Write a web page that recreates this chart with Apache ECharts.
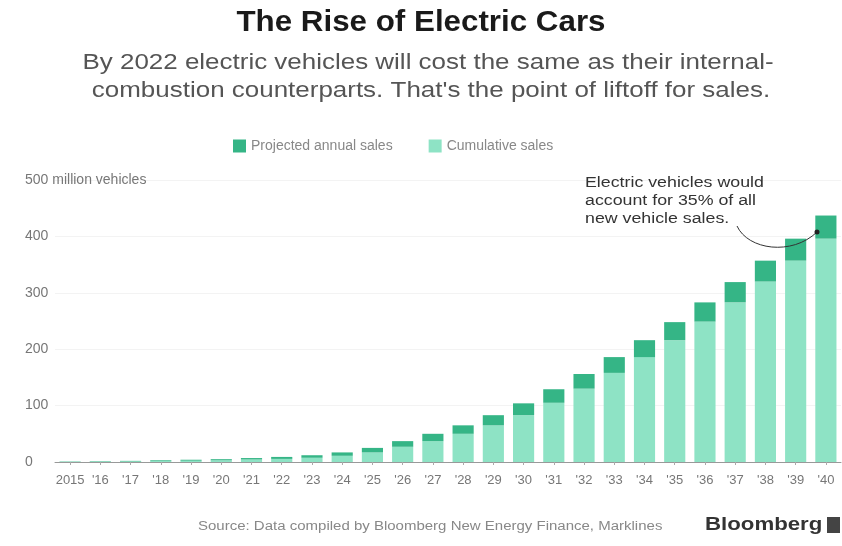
<!DOCTYPE html>
<html><head><meta charset="utf-8">
<script src="https://cdn.jsdelivr.net/npm/echarts@6/dist/echarts.min.js"></script>
<style>html,body{margin:0;padding:0;background:#fff}#c{width:842px;height:546px}</style>
</head><body><div id="c"></div>
<script>
const years = ['2015',"'16","'17","'18","'19","'20","'21","'22","'23","'24","'25","'26","'27","'28","'29","'30","'31","'32","'33","'34","'35","'36","'37","'38","'39","'40"];
const cumulativeSales = [1,1.5,2,3,4,5,7,9,12,17,25,37,50,65,83,104,129,156,186,216,248,283,319,357,396,437];
const annualSales = [0.5,0.7,1,1.3,1.7,2,2.5,3.5,4.5,6,8,10,13,15,18,21,24,26,28,30,32,34,36,37,39,41];
const yTicks = [0,100,200,300,400,500];

const base = cumulativeSales.map((v,i)=>v-annualSales[i]);
const chart = echarts.init(document.getElementById('c'));
const FONT = 'Liberation Sans, Arial, sans-serif';
function txt(x,y,text,font,fill,align,scaleX,extra){
  return {type:'text',x:x,y:y,scaleX:scaleX,z:100,
    style:Object.assign({text:text,x:0,y:0,font:font,fill:fill,align:align,verticalAlign:'middle'},extra||{})};
}
chart.setOption({
  backgroundColor:'#fff',
  animation:false,
  textStyle:{fontFamily:FONT},
  legend:{
    top:134,left:228,itemWidth:13,itemHeight:13,itemGap:36,
    data:[{name:'Projected annual sales',icon:'rect'},{name:'Cumulative sales',icon:'rect'}],
    textStyle:{color:'#888',fontSize:14}
  },
  grid:{left:55,right:1,top:180,bottom:84},
  xAxis:{type:'category',data:years,
    axisLine:{lineStyle:{color:'#999'}},
    axisTick:{show:true,alignWithLabel:true,length:3,lineStyle:{color:'#aaa'}},
    axisLabel:{color:'#777',fontSize:13,margin:12,interval:0}},
  yAxis:{type:'value',min:0,max:500,interval:100,
    axisLine:{show:false},axisTick:{show:false},
    splitLine:{lineStyle:{color:'#f3f3f3'}},
    axisLabel:{color:'#777',fontSize:14,align:'left',margin:30,
      formatter:v=> v===500 ? '500 million vehicles' : String(v)}},
  series:[
    {name:'Cumulative sales',type:'bar',stack:'t',data:base,barWidth:'70%',
     itemStyle:{color:'#8ee3c5'}},
    {name:'Projected annual sales',type:'bar',stack:'t',data:annualSales,barWidth:'70%',
     itemStyle:{color:'#35b586'}}
  ],
  graphic:[
    txt(421,23,'The Rise of Electric Cars','bold 29px '+FONT,'#1a1a1a','center',1.08),
    txt(428,63,'By 2022 electric vehicles will cost the same as their internal-','22px '+FONT,'#555','center',1.18),
    txt(431,91,'combustion counterparts. That\'s the point of liftoff for sales.','22px '+FONT,'#555','center',1.18),
    txt(585,183,'Electric vehicles would','14px '+FONT,'#333','left',1.27),
    txt(585,201,'account for 35% of all','14px '+FONT,'#333','left',1.27),
    txt(585,219,'new vehicle sales.','14px '+FONT,'#333','left',1.27),
    {type:'bezierCurve',z:100,shape:{x1:737,y1:226,cpx1:748,cpy1:250,cpx2:792,cpy2:256,x2:817,y2:232},style:{stroke:'#333',lineWidth:1,fill:null}},
    {type:'circle',z:100,shape:{cx:817,cy:232,r:2.5},style:{fill:'#222'}},
    txt(198,527,'Source: Data compiled by Bloomberg New Energy Finance, Marklines','12px '+FONT,'#888','left',1.25),
    txt(705,525,'Bloomberg','bold 19px '+FONT,'#333','left',1.17),
    {type:'rect',z:100,shape:{x:827,y:517,width:13,height:16},style:{fill:'#444'}}
  ]
});
</script></body></html>
